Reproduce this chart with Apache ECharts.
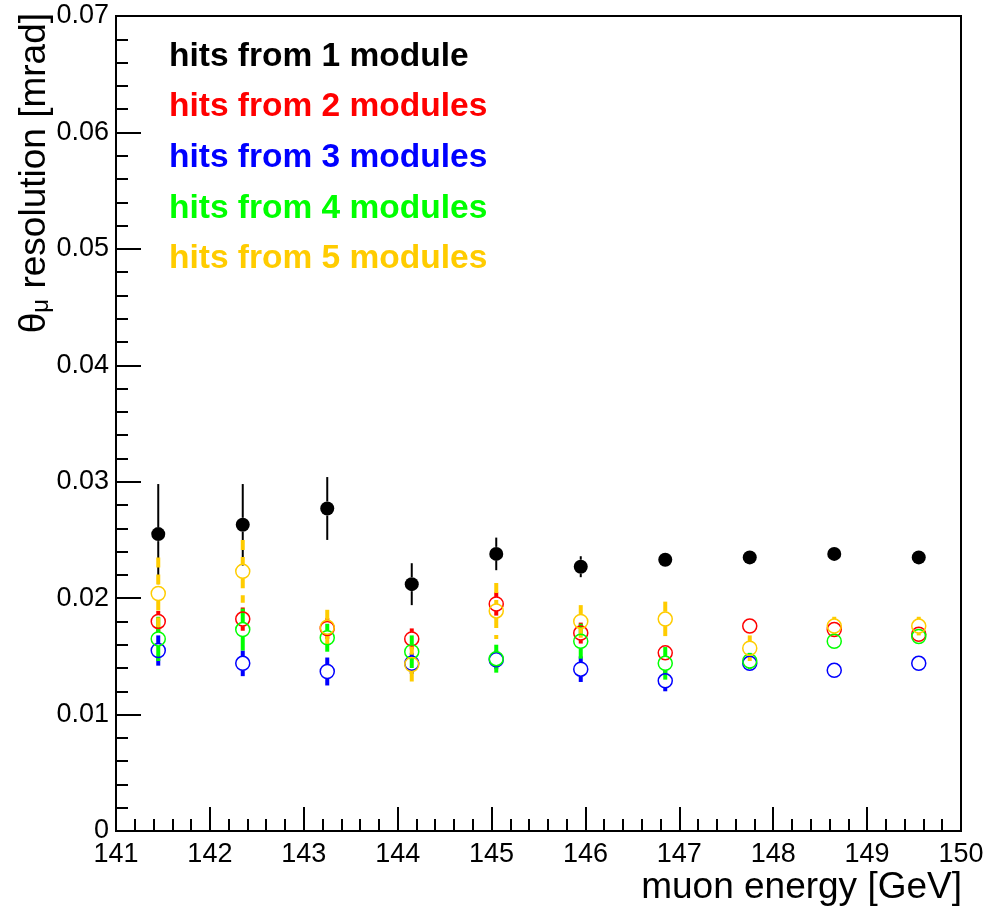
<!DOCTYPE html>
<html>
<head>
<meta charset="utf-8">
<script src="https://cdn.jsdelivr.net/npm/echarts@6/dist/echarts.min.js"></script>
<style>
    html, body { margin: 0; padding: 0; background: #fff; }
    #chart { width: 988px; height: 909px; }
</style>
</head>
<body>
<div id="chart"></div>
<script>
// muon energy bin centres [GeV]
const energy = [141.45, 142.35, 143.25, 144.15, 145.05, 145.95, 146.85, 147.75, 148.65, 149.55];

// theta_mu resolution [mrad] and its errors, per number of modules
const res1 = [0.0255, 0.0263, 0.0277, 0.0212, 0.0238, 0.0227, 0.0233, 0.0235, 0.0238, 0.0235];
const err1 = [0.0043, 0.0035, 0.0027, 0.0018, 0.0014, 0.0009, 0.0004, 0.0004, 0.0004, 0.0004];
const res2 = [0.0180, 0.0182, 0.0174, 0.0165, 0.0195, 0.0170, 0.0153, 0.0176, 0.0173, 0.0169];
const err2 = [0.0009, 0.0010, 0.0009, 0.0009, 0.0010, 0.0009, 0.0006, 0.0006, 0.0005, 0.0005];
const res3 = [0.0155, 0.0144, 0.0137, 0.0144, 0.0147, 0.0139, 0.0129, 0.0144, 0.0138, 0.0144];
const err3 = [0.0013, 0.0011, 0.0012, 0.0009, 0.0008, 0.0011, 0.0009, 0.0005, 0.0004, 0.0004];
const res4 = [0.0165, 0.0173, 0.0166, 0.0154, 0.0148, 0.0163, 0.0144, 0.0146, 0.0163, 0.0167];
const err4 = [0.0019, 0.0018, 0.0012, 0.0014, 0.0012, 0.0015, 0.0014, 0.0007, 0.0004, 0.0004];
const res5 = [0.0204, 0.0223, 0.0175, 0.0143, 0.0189, 0.0180, 0.0182, 0.0157, 0.0176, 0.0176];
const err5 = [0.0031, 0.0027, 0.0015, 0.0017, 0.0024, 0.0014, 0.0015, 0.0011, 0.0008, 0.0008];

const labels = ['hits from 1 module', 'hits from 2 modules', 'hits from 3 modules', 'hits from 4 modules', 'hits from 5 modules'];

const font = 'Liberation Sans, Arial, sans-serif';

// 每组的样式
const sets = [
    { name: labels[0], res: res1, err: err1, color: '#000000', filled: true, barWidth: 2, dash: null },
    { name: labels[1], res: res2, err: err2, color: '#ff0000', filled: false, barWidth: 4, dash: null },
    { name: labels[2], res: res3, err: err3, color: '#0000ff', filled: false, barWidth: 4, dash: null },
    { name: labels[3], res: res4, err: err4, color: '#00ff00', filled: false, barWidth: 4, dash: null },
    { name: labels[4], res: res5, err: err5, color: '#ffcc00', filled: false, barWidth: 4, dash: [10, 7] },
];

const gap = 7; // error bar stops at the marker edge

let series = [];
sets.forEach((s) => {
    const data = energy.map((x, i) => [x, s.res[i], s.err[i]]);
    // error bars
    series.push({
        type: 'custom',
        name: s.name + ' err',
        silent: true,
        encode: { x: 0, y: 1 },
        data: data,
        renderItem: (params, api) => {
            const x = api.value(0), y = api.value(1), e = api.value(2);
            const c = api.coord([x, y]);
            const top = api.coord([x, y + e]);
            const bot = api.coord([x, y - e]);
            const style = { stroke: s.color, lineWidth: s.barWidth, lineDash: s.dash };
            const children = [];
            if (c[1] - top[1] > gap) {
                children.push({ type: 'line', shape: { x1: c[0], y1: top[1], x2: c[0], y2: c[1] - gap }, style: style });
            }
            if (bot[1] - c[1] > gap) {
                children.push({ type: 'line', shape: { x1: c[0], y1: c[1] + gap, x2: c[0], y2: bot[1] }, style: style });
            }
            return { type: 'group', children: children };
        }
    });
    // markers
    series.push({
        type: 'scatter',
        name: s.name,
        silent: true,
        symbol: 'circle',
        symbolSize: 14,
        data: data.map(d => [d[0], d[1]]),
        itemStyle: s.filled
            ? { color: s.color, opacity: 1 }
            : { color: 'rgba(0,0,0,0)', borderColor: s.color, borderWidth: 1.5, opacity: 1 },
    });
});

// 图例文字
const legendY = [56, 106, 157, 208, 258];
const legendText = sets.map((s, i) => ({
    type: 'text',
    left: 169,
    top: legendY[i] - 16,
    style: { text: s.name, fill: s.color, font: 'bold 33.5px ' + font }
}));

const option = {
    animation: false,
    backgroundColor: '#fff',
    grid: {
        left: 116, right: 27, top: 16, bottom: 78,
        show: true, borderColor: '#000', borderWidth: 2, backgroundColor: 'transparent'
    },
    xAxis: {
        type: 'value',
        min: 141, max: 150, interval: 1,
        axisLine: { onZero: false, lineStyle: { color: '#000', width: 2 } },
        axisTick: { inside: true, length: 24, lineStyle: { color: '#000', width: 2 } },
        minorTick: { show: true, splitNumber: 5, length: 12, lineStyle: { color: '#000', width: 2 } },
        splitLine: { show: false },
        axisLabel: { color: '#000', fontSize: 27, fontFamily: font, margin: 10 }
    },
    yAxis: {
        type: 'value',
        min: 0, max: 0.07, interval: 0.01,
        axisLine: { show: true, onZero: false, lineStyle: { color: '#000', width: 2 } },
        axisTick: { show: true, inside: true, length: 25, lineStyle: { color: '#000', width: 2 } },
        minorTick: { show: true, splitNumber: 5, length: 12, lineStyle: { color: '#000', width: 2 } },
        splitLine: { show: false },
        axisLabel: {
            color: '#000', fontSize: 27, fontFamily: font, margin: 7,
            formatter: (v) => String(Math.round(v * 100) / 100)
        }
    },
    graphic: [
        ...legendText,
        {
            type: 'text',
            x: 962, y: 888,
            style: { text: 'muon energy [GeV]', fill: '#000', font: '37px ' + font, align: 'right', verticalAlign: 'middle' }
        },
        {
            type: 'text',
            x: 35, y: 13,
            rotation: Math.PI / 2,
            style: {
                text: '{a|θ}{b|μ}{a| resolution [mrad]}',
                align: 'right', verticalAlign: 'middle',
                rich: {
                    a: { fontSize: 37, fontFamily: font, fill: '#000' },
                    b: { fontSize: 24, fontFamily: font, fill: '#000', verticalAlign: 'bottom' }
                }
            }
        }
    ],
    series: series
};

const myChart = echarts.init(document.getElementById('chart'));
myChart.setOption(option);
</script>
</body>
</html>
